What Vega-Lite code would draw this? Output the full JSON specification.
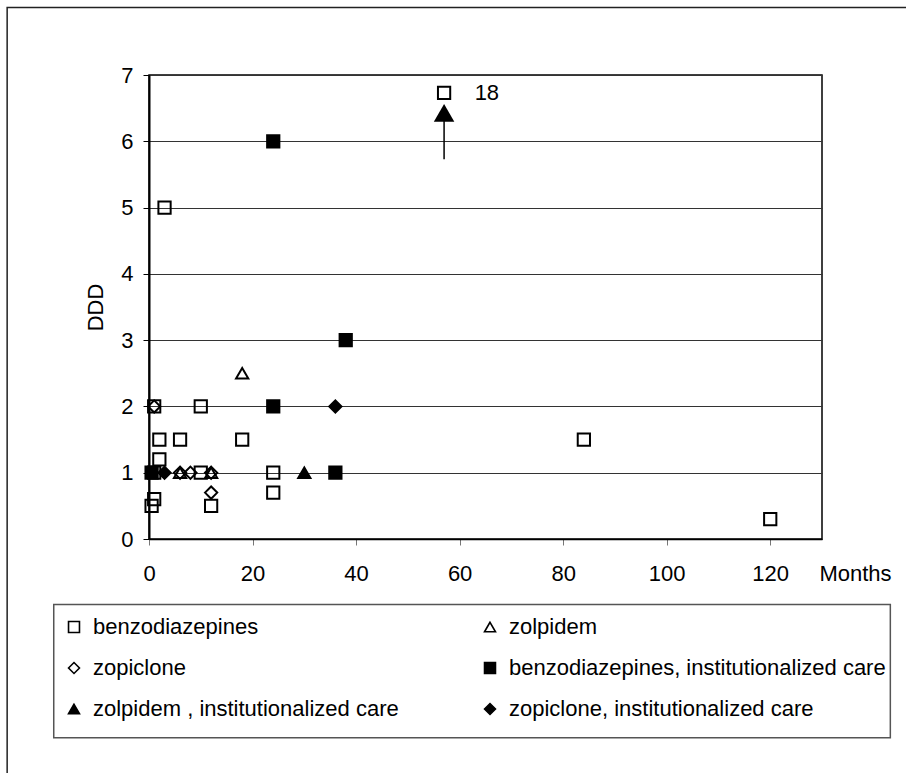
{
  "$schema": "https://vega.github.io/schema/vega-lite/v6.json",
  "width": 673,
  "height": 464,
  "autosize": {"type": "none"},
  "padding": {"left": 149, "top": 75, "right": 84, "bottom": 234},
  "background": "white",
  "config": {
    "font": "Liberation Sans",
    "view": {"stroke": "black", "strokeWidth": 1.5}
  },
  "encoding": {
    "x": {
      "field": "m", "type": "quantitative",
      "scale": {"domain": [0, 130], "nice": false, "zero": false},
      "axis": {
        "values": [0, 20, 40, 60, 80, 100, 120], "format": "d",
        "title": "Months", "titleX": 706, "titleY": 34, "titleAlign": "center", "titleBaseline": "middle",
        "titleFontSize": 22, "titleFontWeight": "normal", "titleColor": "black",
        "labelFontSize": 22, "labelColor": "black", "labelBaseline": "middle", "labelPadding": 28,
        "labelFlush": false, "labelOverlap": false,
        "tickSize": 6, "tickColor": "#777", "domainColor": "black", "domainWidth": 1.5, "grid": false
      }
    },
    "y": {
      "field": "v", "type": "quantitative",
      "scale": {"domain": [0, 7], "nice": false, "zero": false},
      "axis": {
        "values": [0, 1, 2, 3, 4, 5, 6, 7], "format": "d",
        "title": "DDD", "titleX": -54, "titleY": 232, "titleAngle": 270, "titleAlign": "center", "titleBaseline": "middle",
        "titleFontSize": 22, "titleFontWeight": "normal", "titleColor": "black",
        "labelFontSize": 22, "labelColor": "black", "labelPadding": 10,
        "tickSize": 6, "tickColor": "black", "domainColor": "black", "domainWidth": 2,
        "grid": true, "gridColor": "#333", "gridWidth": 1
      }
    }
  },
  "layer": [
    {
      "data": {"values": [{"m": -27.4, "m2": 150, "v": 8.02, "v2": -4}]},
      "mark": {"type": "rect", "fill": "transparent", "stroke": "#222", "strokeWidth": 1.5},
      "encoding": {"x2": {"field": "m2"}, "y2": {"field": "v2"}}
    },
    {
      "data": {"values": [{"m": -18.4, "m2": 143.2, "v": -0.99, "v2": -3.0}]},
      "mark": {"type": "rect", "fill": "white", "stroke": "#555", "strokeWidth": 1.5},
      "encoding": {"x2": {"field": "m2"}, "y2": {"field": "v2"}}
    },
    {
      "data": {"values": [
        {"series": "benzodiazepines", "m": 1, "v": 2},
        {"series": "benzodiazepines", "m": 10, "v": 2},
        {"series": "benzodiazepines", "m": 2, "v": 1.5},
        {"series": "benzodiazepines", "m": 6, "v": 1.5},
        {"series": "benzodiazepines", "m": 18, "v": 1.5},
        {"series": "benzodiazepines", "m": 2, "v": 1.2},
        {"series": "benzodiazepines", "m": 1, "v": 1},
        {"series": "benzodiazepines", "m": 10, "v": 1},
        {"series": "benzodiazepines", "m": 24, "v": 1},
        {"series": "benzodiazepines", "m": 24, "v": 0.7},
        {"series": "benzodiazepines", "m": 1, "v": 0.6},
        {"series": "benzodiazepines", "m": 0.5, "v": 0.5},
        {"series": "benzodiazepines", "m": 12, "v": 0.5},
        {"series": "benzodiazepines", "m": 3, "v": 5},
        {"series": "benzodiazepines", "m": 57, "v": 6.73},
        {"series": "benzodiazepines", "m": 84, "v": 1.5},
        {"series": "benzodiazepines", "m": 120, "v": 0.3},
        {"series": "zolpidem", "m": 6, "v": 1},
        {"series": "zolpidem", "m": 12, "v": 1},
        {"series": "zolpidem", "m": 18, "v": 2.5},
        {"series": "zopiclone", "m": 1, "v": 2},
        {"series": "zopiclone", "m": 6, "v": 1},
        {"series": "zopiclone", "m": 8, "v": 1},
        {"series": "zopiclone", "m": 12, "v": 1},
        {"series": "zopiclone", "m": 12, "v": 0.7},
        {"series": "benzodiazepines, institutionalized care", "m": 0.5, "v": 1},
        {"series": "benzodiazepines, institutionalized care", "m": 24, "v": 6},
        {"series": "benzodiazepines, institutionalized care", "m": 24, "v": 2},
        {"series": "benzodiazepines, institutionalized care", "m": 38, "v": 3},
        {"series": "benzodiazepines, institutionalized care", "m": 36, "v": 1},
        {"series": "zolpidem , institutionalized  care", "m": 30, "v": 1},
        {"series": "zopiclone, institutionalized  care", "m": 3, "v": 1},
        {"series": "zopiclone, institutionalized  care", "m": 36, "v": 2}
      ]},
      "mark": {"type": "point", "filled": true, "strokeWidth": 2, "size": 150, "opacity": 1},
      "encoding": {
        "shape": {
          "field": "series", "type": "nominal",
          "scale": {
            "domain": ["benzodiazepines", "zolpidem", "zopiclone", "benzodiazepines, institutionalized care", "zolpidem , institutionalized  care", "zopiclone, institutionalized  care"],
            "range": ["square", "triangle-up", "diamond", "square", "triangle-up", "diamond"]
          },
          "legend": {
            "title": null, "orient": "none", "legendX": -86, "legendY": 541, "columns": 2, "direction": "horizontal",
            "columnPadding": 74, "rowPadding": 19, "padding": 0,
            "labelFontSize": 22, "labelFont": "Liberation Sans", "labelColor": "black", "labelLimit": 600,
            "labelOffset": 8, "symbolSize": 120, "symbolStrokeWidth": 1.6
          }
        },
        "fill": {
          "field": "series", "type": "nominal",
          "scale": {
            "domain": ["benzodiazepines", "zolpidem", "zopiclone", "benzodiazepines, institutionalized care", "zolpidem , institutionalized  care", "zopiclone, institutionalized  care"],
            "range": ["transparent", "transparent", "transparent", "black", "black", "black"]
          },
          "legend": {
            "title": null, "orient": "none", "legendX": -86, "legendY": 541, "columns": 2, "direction": "horizontal",
            "columnPadding": 74, "rowPadding": 19, "padding": 0,
            "labelFontSize": 22, "labelFont": "Liberation Sans", "labelColor": "black", "labelLimit": 600,
            "labelOffset": 8, "symbolSize": 120, "symbolStrokeWidth": 1.6
          }
        },
        "stroke": {
          "field": "series", "type": "nominal",
          "scale": {
            "domain": ["benzodiazepines", "zolpidem", "zopiclone", "benzodiazepines, institutionalized care", "zolpidem , institutionalized  care", "zopiclone, institutionalized  care"],
            "range": ["black", "black", "black", "black", "black", "black"]
          },
          "legend": {
            "title": null, "orient": "none", "legendX": -86, "legendY": 541, "columns": 2, "direction": "horizontal",
            "columnPadding": 74, "rowPadding": 19, "padding": 0,
            "labelFontSize": 22, "labelFont": "Liberation Sans", "labelColor": "black", "labelLimit": 600,
            "labelOffset": 8, "symbolSize": 120, "symbolStrokeWidth": 1.6
          }
        }
      }
    },
    {
      "data": {"values": [{"m": 57, "v": 5.73, "v2": 6.32}]},
      "mark": {"type": "rule", "stroke": "black", "strokeWidth": 1.5},
      "encoding": {"y2": {"field": "v2"}}
    },
    {
      "data": {"values": [{"m": 57, "v": 6.43}]},
      "mark": {"type": "point", "shape": "triangle-up", "filled": true, "fill": "black", "strokeWidth": 0, "size": 420, "opacity": 1},
      "encoding": {}
    },
    {
      "data": {"values": [{"m": 62.9, "v": 6.73, "label": "18"}]},
      "mark": {"type": "text", "align": "left", "baseline": "middle", "fontSize": 22, "font": "Liberation Sans", "color": "black"},
      "encoding": {"text": {"field": "label"}}
    }
  ]
}
